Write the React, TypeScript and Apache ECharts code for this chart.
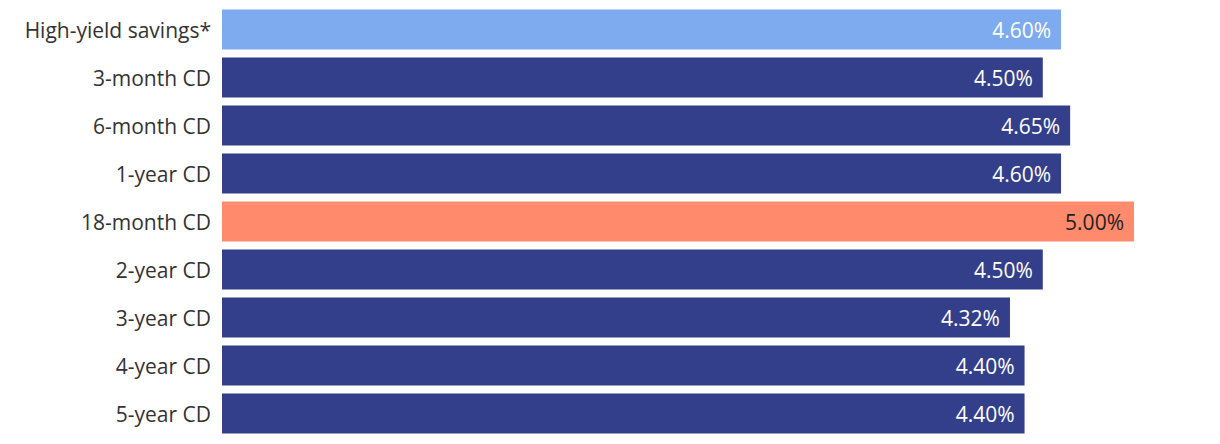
import React, { useEffect, useRef } from "react";
import * as echarts from "echarts";

const categories = [
  "High-yield savings*",
  "3-month CD",
  "6-month CD",
  "1-year CD",
  "18-month CD",
  "2-year CD",
  "3-year CD",
  "4-year CD",
  "5-year CD",
];
const rates = [4.6, 4.5, 4.65, 4.6, 5.0, 4.5, 4.32, 4.4, 4.4];
const barColors = [
  "#7eabf0",
  "#343f8b",
  "#343f8b",
  "#343f8b",
  "#ff8a6c",
  "#343f8b",
  "#343f8b",
  "#343f8b",
  "#343f8b",
];
const labelColors = ["#ffffff", "#ffffff", "#ffffff", "#ffffff", "#222222", "#ffffff", "#ffffff", "#ffffff", "#ffffff"];

const FONT = "'Open Sans', sans-serif";

export default function App() {
  const ref = useRef<HTMLDivElement>(null);
  useEffect(() => {
    document.body.style.margin = "0";
    if (!ref.current) return;
    const chart = echarts.init(ref.current, undefined, { renderer: "svg" });
    chart.setOption({
      animation: false,
      grid: { left: 222, width: 912, top: 5.5, height: 432 },
      xAxis: {
        type: "value",
        min: 0,
        max: 5,
        show: false,
      },
      yAxis: {
        type: "category",
        data: categories,
        inverse: true,
        axisLine: { show: false },
        axisTick: { show: false },
        splitLine: { show: false },
        axisLabel: {
          color: "#333333",
          fontSize: 21,
          fontFamily: FONT,
          margin: 11,
        },
      },
      series: [
        {
          type: "bar",
          barCategoryGap: "16.7%",
          data: rates.map((v, i) => ({
            value: v,
            itemStyle: { color: barColors[i] },
            label: { color: labelColors[i] },
          })),
          label: {
            show: true,
            position: "insideRight",
            distance: 10,
            fontSize: 21,
            fontFamily: FONT,
            formatter: (p: any) => p.value.toFixed(2) + "%",
          },
        },
      ],
    });
    return () => chart.dispose();
  }, []);
  return <div ref={ref} style={{ width: 1220, height: 444, margin: 0 }} />;
}
